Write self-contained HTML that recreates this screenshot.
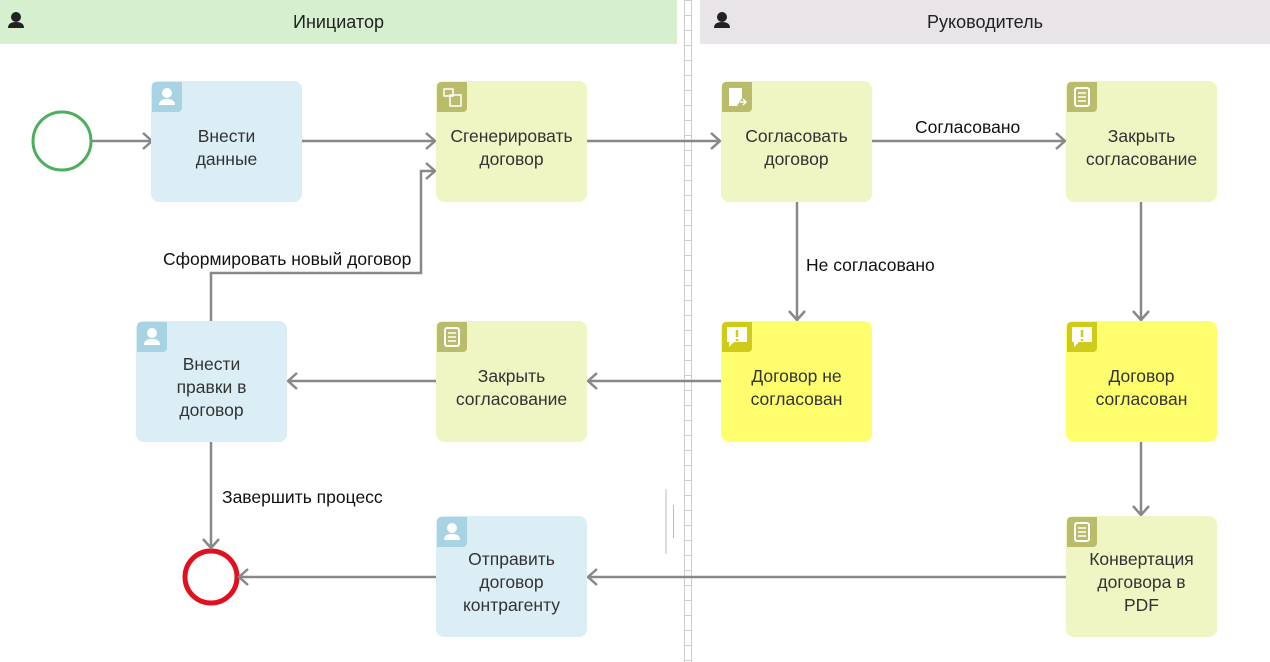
<!DOCTYPE html>
<html><head><meta charset="utf-8"><style>
*{margin:0;padding:0;box-sizing:border-box}
body{width:1270px;height:662px;background:#fff;position:relative;overflow:hidden;font-family:"Liberation Sans","DejaVu Sans",sans-serif}
.hdr{position:absolute;top:0;height:44px;font-size:18px;color:#222;display:flex;align-items:center;justify-content:center}
.n{position:absolute;width:151px;height:121px;border-radius:8px;display:flex;align-items:center;justify-content:center;text-align:center;font-size:17.5px;line-height:23px;color:#333;padding:12px 4px 0}
.b{background:#dbeef6}.g{background:#eff5c3}.y{background:#ffff6e}
.ic{position:absolute;left:1px;top:1px;width:30px;height:30px;border-radius:4px 0 4px 0}
.b .ic{background:#a8d3e3}.g .ic{background:#b9bc6a}.y .ic{background:#cfcb1a}
.ic svg{position:absolute;left:0;top:0}
.lbl{position:absolute;font-size:17.5px;color:#111;white-space:nowrap;text-shadow:0 0 3px #fff,0 0 3px #fff}
</style></head><body>
<div class="hdr" style="left:0;width:677px;background:#d6f0cf">Инициатор</div>
<div class="hdr" style="left:700px;width:570px;background:#e8e4e8">Руководитель</div>
<svg style="position:absolute;left:0;top:0" width="1270" height="662">
<defs><pattern id="lad" x="0" y="0" width="10" height="15" patternUnits="userSpaceOnUse"><line x1="0" y1="0.5" x2="10" y2="0.5" stroke="#d0d0d0" stroke-width="1"/></pattern></defs>
<rect x="684" y="0" width="7" height="662" fill="url(#lad)"/>
<line x1="684.5" y1="0" x2="684.5" y2="662" stroke="#ccc"/>
<line x1="691.5" y1="0" x2="691.5" y2="662" stroke="#ccc"/>
<line x1="666" y1="489" x2="666" y2="554" stroke="#bbb"/>
<line x1="673.5" y1="505" x2="673.5" y2="538" stroke="#bbb"/>
<g fill="#222"><circle cx="16" cy="17" r="5"/><path d="M8 28 q0-6 8-6 q8 0 8 6z"/><circle cx="722" cy="17" r="5"/><path d="M714 28 q0-6 8-6 q8 0 8 6z"/></g>
<circle cx="62" cy="141" r="29" fill="none" stroke="#4caf5c" stroke-width="3"/>
<circle cx="211" cy="577" r="26" fill="none" stroke="#e0101e" stroke-width="5"/>
<g fill="none" stroke="#888" stroke-width="2.5">
<path d="M91 141H152M143 133l9 8-9 8"/>
<path d="M302 141H435M426 133l9 8-9 8"/>
<path d="M587 141H720M711 133l9 8-9 8"/>
<path d="M872 141H1065M1056 133l9 8-9 8"/>
<path d="M797 202V320M789 311l8 9 8-9"/>
<path d="M1141 202V320M1133 311l8 9 8-9"/>
<path d="M1141 442V515M1133 506l8 9 8-9"/>
<path d="M721 381H588M597 373l-9 8 9 8"/>
<path d="M436 381H288M297 373l-9 8 9 8"/>
<path d="M1066 577H588M597 569l-9 8 9 8"/>
<path d="M436 577H239M248 569l-9 8 9 8"/>
<path d="M211 442V548M203 539l8 9 8-9"/>
<path d="M211 321V273H421V171H435M426 163l9 8-9 8"/>
</g>
</svg>
<div class="lbl" style="left:915px;top:117px">Согласовано</div>
<div class="lbl" style="left:806px;top:255px">Не согласовано</div>
<div class="lbl" style="left:163px;top:249px">Сформировать новый договор</div>
<div class="lbl" style="left:222px;top:487px">Завершить процесс</div>

<div class="n b" style="left:151px;top:81px"><div class="ic"><svg width="30" height="30"><circle cx="15" cy="11" r="5" fill="#fff"/><path d="M7 23q0-6 8-6q8 0 8 6z" fill="#fff"/></svg></div>Внести<br>данные</div>
<div class="n g" style="left:436px;top:81px"><div class="ic"><svg width="30" height="30"><rect x="7" y="7" width="9" height="7" fill="none" stroke="#fff" stroke-width="1.5"/><rect x="13" y="13" width="11" height="11" fill="none" stroke="#fff" stroke-width="1.5"/></svg></div>Сгенерировать<br>договор</div>
<div class="n g" style="left:721px;top:81px"><div class="ic"><svg width="30" height="30"><path d="M7 6h13v10l-5 8H7z" fill="#fff"/><path d="M18 20h6M21 17l3 3-3 3" stroke="#fff" stroke-width="1.5" fill="none"/></svg></div>Согласовать<br>договор</div>
<div class="n g" style="left:1066px;top:81px"><div class="ic"><svg width="30" height="30"><rect x="8" y="6" width="14" height="18" rx="2" fill="none" stroke="#fff" stroke-width="2"/><path d="M11 11h8M11 15h8M11 19h8" stroke="#fff" stroke-width="1.5"/></svg></div>Закрыть<br>согласование</div>
<div class="n b" style="left:136px;top:321px"><div class="ic"><svg width="30" height="30"><circle cx="15" cy="11" r="5" fill="#fff"/><path d="M7 23q0-6 8-6q8 0 8 6z" fill="#fff"/></svg></div>Внести<br>правки в<br>договор</div>
<div class="n g" style="left:436px;top:321px"><div class="ic"><svg width="30" height="30"><rect x="8" y="6" width="14" height="18" rx="2" fill="none" stroke="#fff" stroke-width="2"/><path d="M11 11h8M11 15h8M11 19h8" stroke="#fff" stroke-width="1.5"/></svg></div>Закрыть<br>согласование</div>
<div class="n y" style="left:721px;top:321px"><div class="ic"><svg width="30" height="30"><path d="M5 5h20v15H12l-5 5v-5H5z" fill="#fff"/><path d="M15 8v7M15 17v2" stroke="#cfcb1a" stroke-width="2.5"/></svg></div>Договор не<br>согласован</div>
<div class="n y" style="left:1066px;top:321px"><div class="ic"><svg width="30" height="30"><path d="M5 5h20v15H12l-5 5v-5H5z" fill="#fff"/><path d="M15 8v7M15 17v2" stroke="#cfcb1a" stroke-width="2.5"/></svg></div>Договор<br>согласован</div>
<div class="n b" style="left:436px;top:516px"><div class="ic"><svg width="30" height="30"><circle cx="15" cy="11" r="5" fill="#fff"/><path d="M7 23q0-6 8-6q8 0 8 6z" fill="#fff"/></svg></div>Отправить<br>договор<br>контрагенту</div>
<div class="n g" style="left:1066px;top:516px"><div class="ic"><svg width="30" height="30"><rect x="8" y="6" width="14" height="18" rx="2" fill="none" stroke="#fff" stroke-width="2"/><path d="M11 11h8M11 15h8M11 19h8" stroke="#fff" stroke-width="1.5"/></svg></div>Конвертация<br>договора в<br>PDF</div>
</body></html>
